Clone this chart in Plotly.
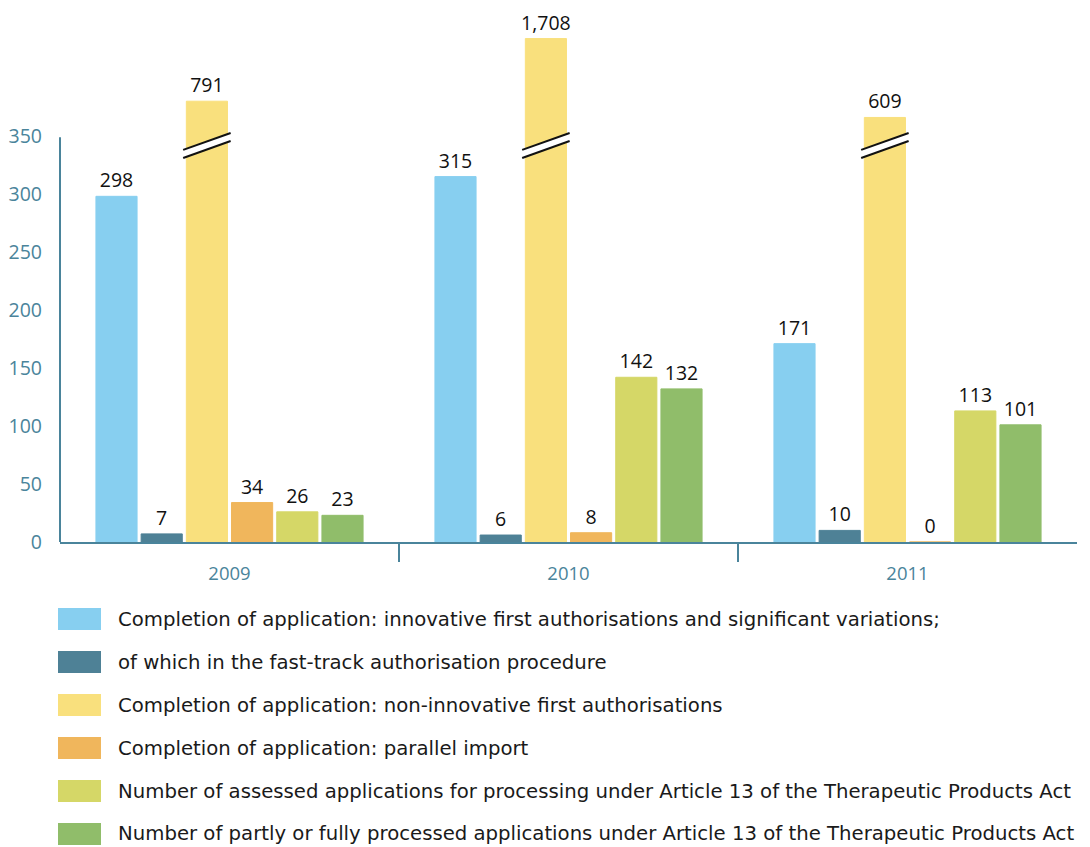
import plotly.graph_objects as go

years = ["2009", "2010", "2011"]
series_names = [
    "Completion of application: innovative first authorisations and significant variations;",
    "of which in the fast-track authorisation procedure",
    "Completion of application: non-innovative first authorisations",
    "Completion of application: parallel import",
    "Number of assessed applications for processing under Article 13 of the Therapeutic Products Act",
    "Number of partly or fully processed applications under Article 13 of the Therapeutic Products Act",
]
innovative = [298, 315, 171]
fast_track = [7, 6, 10]
non_innovative = [791, 1708, 609]
parallel_import = [34, 8, 0]
assessed_art13 = [26, 142, 113]
processed_art13 = [23, 132, 101]

# drawn height of the broken (cut-axis) bars
non_innovative_drawn = [380, 434, 366]

colors = ["#87CFF0", "#4E8196", "#F9E07D", "#F0B65C", "#D5D767", "#90BD6A"]
values = [innovative, fast_track, non_innovative, parallel_import, assessed_art13, processed_art13]
drawn = [innovative, fast_track, non_innovative_drawn, parallel_import, assessed_art13, processed_art13]

FONT = "Open Sans"
LEG_FONT = "DejaVu Sans"
AXIS_C = "#4A849B"

fig = go.Figure()
for i in range(6):
    fig.add_trace(go.Bar(
        x=years, y=drawn[i], name=series_names[i],
        marker=dict(color=colors[i], line=dict(color=colors[i], width=1)),
        text=[f"{v:,}" for v in values[i]], textposition="outside",
        constraintext="none",
        textfont=dict(family=FONT, size=19.5, color="#111111"),
        cliponaxis=False, showlegend=False,
    ))

shapes = []
# y axis line
shapes.append(dict(type="line", xref="paper", yref="y", x0=0, x1=0, y0=0, y1=349,
                   line=dict(color=AXIS_C, width=2)))
# group separators
for xb in [0.5, 1.5]:
    shapes.append(dict(type="line", xref="x", yref="paper", x0=xb, x1=xb, y0=0, y1=-20 / 522,
                       line=dict(color=AXIS_C, width=2)))

# break marks on the non-innovative bars
slot = 0.8 / 6
for j in range(3):
    c = j - 0.4 + 2.5 * slot
    xl, xr = c - 0.07, c + 0.07
    ul, ur, ll, lr = 338, 352.6, 331, 345.7
    shapes.append(dict(type="path", xref="x", yref="y",
                       path=f"M {xl},{ll} L {xr},{lr} L {xr},{ur} L {xl},{ul} Z",
                       fillcolor="white", line=dict(width=0)))
    for (a, b) in [(ul, ur), (ll, lr)]:
        shapes.append(dict(type="line", xref="x", yref="y", x0=xl, x1=xr, y0=a, y1=b,
                           line=dict(color="#111111", width=2)))

# custom legend (positions relative to the plot area)
annotations = []
plot_h = 522
for i in range(6):
    cy = 619 + i * 43
    py = lambda p: (542 - p) / plot_h
    shapes.append(dict(type="rect", xref="paper", yref="paper",
                       x0=(58 - 60) / 1017, x1=(101 - 60) / 1017,
                       y0=py(cy + 11), y1=py(cy - 11),
                       fillcolor=colors[i], line=dict(width=0)))
    annotations.append(dict(xref="paper", yref="paper", x=(116 - 60) / 1017, y=py(cy),
                            xanchor="left", yanchor="middle", showarrow=False,
                            text=series_names[i],
                            font=dict(family=LEG_FONT, size=19.7, color="#1a1a1a")))

fig.update_layout(
    width=1082, height=839,
    margin=dict(l=52, r=13, t=12, b=305, autoexpand=False),
    paper_bgcolor="white", plot_bgcolor="white",
    barmode="group", bargap=0.2, bargroupgap=0.09,
    shapes=shapes, annotations=annotations,
    xaxis=dict(showline=True, linecolor=AXIS_C, linewidth=2, showgrid=False,
               ticks="", ticklabelstandoff=14, automargin=False,
               tickfont=dict(family=FONT, size=18.5, color=AXIS_C)),
    yaxis=dict(range=[0, 450], showgrid=False, showline=False, zeroline=False,
               tickvals=[0, 50, 100, 150, 200, 250, 300, 350], ticks="",
               ticklabelstandoff=17, automargin=False,
               tickfont=dict(family=FONT, size=19.5, color=AXIS_C)),
)

fig.write_html("out.html")
